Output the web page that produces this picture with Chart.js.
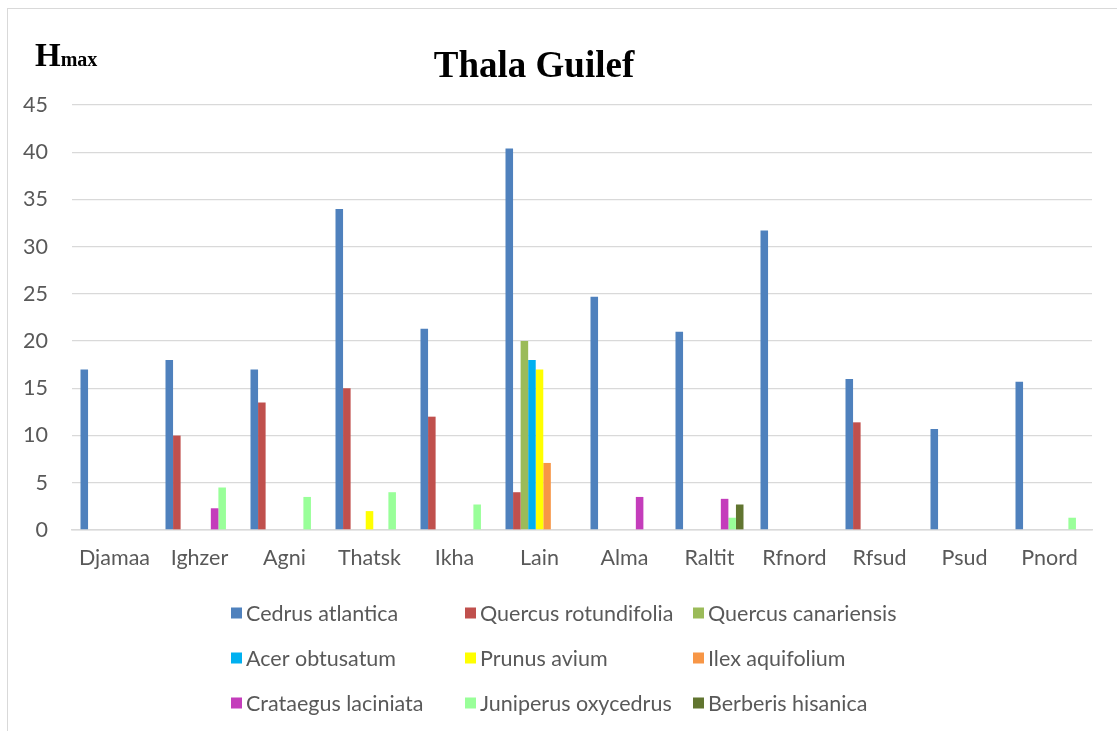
<!DOCTYPE html>
<html>
<head>
<meta charset="utf-8">
<script src="https://cdn.jsdelivr.net/npm/chart.js@4"></script>
<style>
  body { margin: 0; background: #fff; }
  #wrap { position: relative; width: 1117px; height: 731px; overflow: hidden; }
  #frame { position: absolute; left: 7px; top: 8px; width: 1120px; height: 740px; border: 1px solid #d9d9d9; box-sizing: border-box; }
  canvas { position: absolute; left: 0; top: 0; }
</style>
</head>
<body>
<div id="wrap">
  <div id="frame"></div>
  <canvas id="chart" width="1117" height="731"></canvas>
</div>
<script>
// plots
const sites = ['Djamaa', 'Ighzer', 'Agni', 'Thatsk', 'Ikha', 'Lain', 'Alma', 'Raltit', 'Rfnord', 'Rfsud', 'Psud', 'Pnord'];

// Hmax per species, one value per site
const cedrusAtlantica      = [17, 18, 17, 34, 21.3, 40.4, 24.7, 21, 31.7, 16, 10.7, 15.7];
const quercusRotundifolia  = [0, 10, 13.5, 15, 12, 4, 0, 0, 0, 11.4, 0, 0];
const quercusCanariensis   = [0, 0, 0, 0, 0, 20, 0, 0, 0, 0, 0, 0];
const acerObtusatum        = [0, 0, 0, 0, 0, 18, 0, 0, 0, 0, 0, 0];
const prunusAvium          = [0, 0, 0, 2, 0, 17, 0, 0, 0, 0, 0, 0];
const ilexAquifolium       = [0, 0, 0, 0, 0, 7.1, 0, 0, 0, 0, 0, 0];
const crataegusLaciniata   = [0, 2.3, 0, 0, 0, 0, 3.5, 3.3, 0, 0, 0, 0];
const juniperusOxycedrus   = [0, 4.5, 3.5, 4, 2.7, 0, 0, 1.3, 0, 0, 0, 1.3];
const berberisHisanica     = [0, 0, 0, 0, 0, 0, 0, 2.7, 0, 0, 0, 0];

const yTicks = [0, 5, 10, 15, 20, 25, 30, 35, 40, 45];

const series = [
  { label: 'Cedrus atlantica', data: cedrusAtlantica, color: '#4F81BD' },
  { label: 'Quercus rotundifolia', data: quercusRotundifolia, color: '#C0504D' },
  { label: 'Quercus canariensis', data: quercusCanariensis, color: '#9BBB59' },
  { label: 'Acer obtusatum', data: acerObtusatum, color: '#00B0F0' },
  { label: 'Prunus avium', data: prunusAvium, color: '#FFFF00' },
  { label: 'Ilex aquifolium', data: ilexAquifolium, color: '#F79646' },
  { label: 'Crataegus laciniata', data: crataegusLaciniata, color: '#C43DBB' },
  { label: 'Juniperus oxycedrus', data: juniperusOxycedrus, color: '#99FF99' },
  { label: 'Berberis hisanica', data: berberisHisanica, color: '#617530' }
];

const textColor = '#595959';
const gridColor = '#d9d9d9';
const sansFont = 'Lato, "Open Sans", sans-serif';

// title, axis label and the 3-column legend
const headerAndLegend = {
  id: 'headerAndLegend',
  afterDraw(chart) {
    const ctx = chart.ctx;
    ctx.save();
    ctx.fillStyle = '#000';
    ctx.textBaseline = 'alphabetic';
    ctx.textAlign = 'center';
    ctx.font = 'bold 37px "Liberation Serif", "Times New Roman", serif';
    ctx.fillText('Thala Guilef', 534, 77);

    ctx.textAlign = 'left';
    ctx.font = 'bold 33px "Liberation Serif", "Times New Roman", serif';
    ctx.fillText('H', 35, 66);
    const hw = ctx.measureText('H').width;
    ctx.font = 'bold 20px "Liberation Serif", "Times New Roman", serif';
    ctx.fillText('max', 35 + hw, 66);

    const colX = [231, 465, 693];
    const rowY = [613, 658, 703];
    ctx.font = '21.5px ' + sansFont;
    ctx.textBaseline = 'middle';
    chart.data.datasets.forEach((ds, i) => {
      const x = colX[i % 3];
      const y = rowY[Math.floor(i / 3)];
      ctx.fillStyle = ds.backgroundColor;
      ctx.fillRect(x, y - 5.5, 11, 11);
      ctx.fillStyle = textColor;
      ctx.fillText(ds.label, x + 15, y + 1);
    });
    ctx.restore();
  }
};

const ctx = document.getElementById('chart').getContext('2d');
const chart = new Chart(ctx, {
  type: 'bar',
  data: {
    labels: sites,
    datasets: series.map(s => ({
      label: s.label,
      data: s.data,
      backgroundColor: s.color,
      borderWidth: 0
    }))
  },
  options: {
    responsive: false,
    animation: false,
    devicePixelRatio: 1,
    layout: { padding: { top: 105, right: 25, bottom: 156, left: 0 } },
    datasets: { bar: { categoryPercentage: 0.8, barPercentage: 1 } },
    plugins: {
      legend: { display: false },
      title: { display: false },
      tooltip: { enabled: false }
    },
    scales: {
      x: {
        grid: { display: false, drawTicks: false },
        border: { display: true, color: gridColor, width: 1.5 },
        ticks: { color: textColor, font: { family: sansFont, size: 21.5 }, padding: 15 },
        afterFit(scale) { scale.height = 45; }
      },
      y: {
        min: 0,
        max: 45,
        afterBuildTicks(scale) { scale.ticks = yTicks.map(v => ({ value: v })); },
        grid: { color: gridColor, lineWidth: 1.3, drawTicks: false },
        border: { display: false },
        ticks: { color: textColor, font: { family: sansFont, size: 21.5 }, padding: 24 },
        afterFit(scale) { scale.width = 72; }
      }
    }
  },
  plugins: [headerAndLegend]
});
</script>
</body>
</html>
